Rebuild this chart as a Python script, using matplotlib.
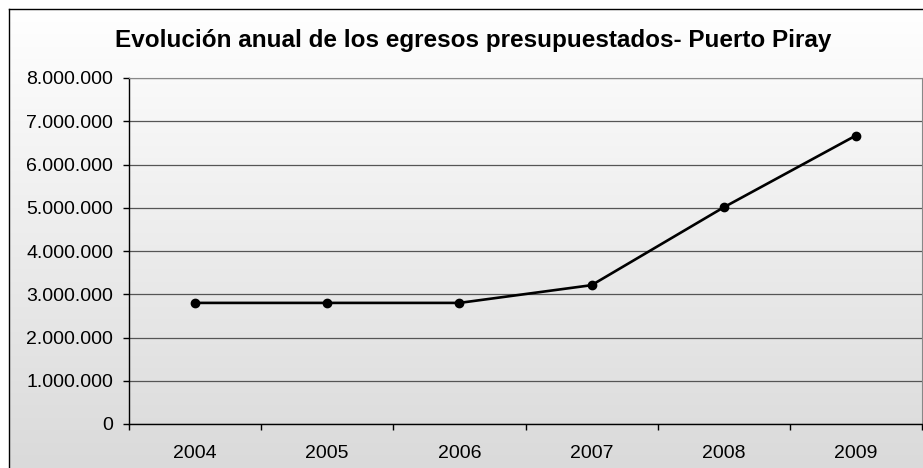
import matplotlib
matplotlib.use("Agg")
import matplotlib.pyplot as plt
import numpy as np
from matplotlib.ticker import FuncFormatter, MultipleLocator

years = ["2004", "2005", "2006", "2007", "2008", "2009"]
egresos = [2800000, 2800000, 2800000, 3210000, 5010000, 6670000]
title = "Evolución anual de los egresos presupuestados- Puerto Piray"

plt.rcParams['font.family'] = ['Liberation Sans', 'DejaVu Sans']

W, H = 923, 468
fig = plt.figure(figsize=(W / 100, H / 100), dpi=100)

# background gradient panel (chart area frame)
bg = fig.add_axes([9 / W, 0, 1 - 9 / W, 1 - 9 / H], zorder=0)
grad = np.linspace(1.0, 0.855, 256).reshape(-1, 1)
bg.imshow(np.dstack([grad, grad, grad]), aspect='auto', extent=[0, 1, 0, 1], origin='upper')
bg.set_xlim(0, 1)
bg.set_ylim(0, 1)
bg.set_xticks([])
bg.set_yticks([])
for s in ['right', 'bottom']:
    bg.spines[s].set_visible(False)
for s in ['left', 'top']:
    bg.spines[s].set_color('black')
    bg.spines[s].set_linewidth(1.0)

left, right, top, bottom = 129, 922, 78, 424
ax = fig.add_axes([left / W, 1 - bottom / H, (right - left) / W, (bottom - top) / H], zorder=1)
ax.patch.set_alpha(0)

x = np.arange(len(years))
ax.plot(x, egresos, color='black', lw=1.9, marker='o', markersize=6, zorder=3)

ax.set_xlim(-0.5, len(years) - 0.5)
ax.set_ylim(0, 8000000)
ax.yaxis.set_major_locator(MultipleLocator(1000000))
ax.yaxis.set_major_formatter(FuncFormatter(lambda v, p: f"{int(v):,}".replace(",", ".")))
ax.set_xticks(x)
ax.set_xticklabels(years)
ax.set_xticks(np.arange(-0.5, len(years), 1), minor=True)
ax.tick_params(axis='x', which='major', length=0, pad=15, labelsize=14)
ax.tick_params(axis='x', which='minor', length=4.5, direction='out', color='black', width=1)
ax.tick_params(axis='y', length=4.5, direction='out', color='black', width=1, labelsize=14, pad=7)
ax.grid(axis='y', color='#555555', lw=0.9, zorder=1)
ax.spines['left'].set_color('black')
ax.spines['bottom'].set_color('black')
ax.spines['left'].set_linewidth(1.0)
ax.spines['bottom'].set_linewidth(1.0)
ax.spines['top'].set_color('#888888')
ax.spines['right'].set_color('#888888')
ax.set_axisbelow(True)

fig.text(473 / W, 1 - 41 / H, title, ha='center', va='center', fontsize=17.5, fontweight='bold')

fig.savefig("out.png", dpi=100)
